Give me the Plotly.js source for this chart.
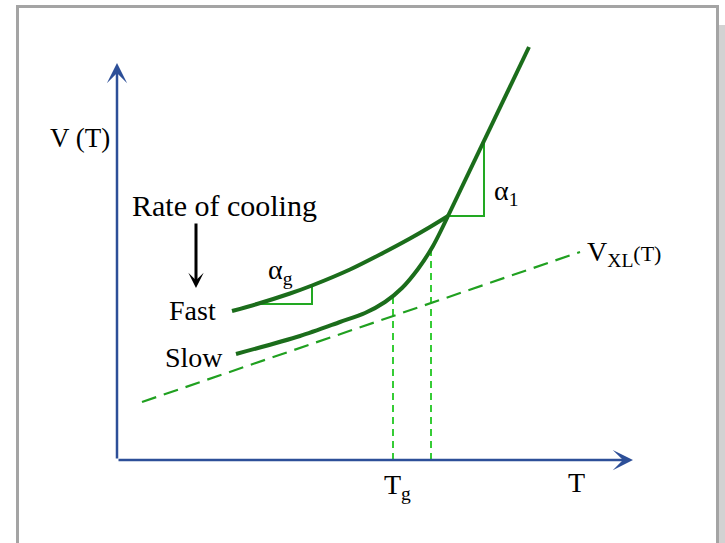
<!DOCTYPE html>
<html>
<head>
<meta charset="utf-8">
<script src="https://cdn.plot.ly/plotly-3.0.1.min.js"></script>
<style>html,body{margin:0;padding:0;background:#fff}#chart{width:725px;height:543px}</style>
</head>
<body>
<div id="chart"></div>
<script>
// Diagram coordinates: T to the right, V upward, origin at axes corner
var liquidT = [331, 412];
var liquidV = [244, 413];
var fastT = [115, 140, 173, 195, 233, 263, 293, 313, 331];
var fastV = [149, 156, 166.5, 174.5, 190.5, 205.5, 221.5, 233, 244];
var slowT = [119, 183, 223, 248, 268, 285, 301, 316, 331];
var slowV = [106, 124, 138, 147, 158, 172, 191, 214, 244];
var xlT = [25, 463];
var xlV = [58, 208];
var tg1T = [276, 276];
var tg1V = [0, 165];
var tg2T = [314, 314];
var tg2V = [0, 211];
var alpha1T = [331, 367, 367];
var alpha1V = [244, 244, 317];
var alphagT = [140, 195, 195];
var alphagV = [156, 156, 174];
var axisTmax = 516;
var axisVmax = 397;

var curveColor = '#1b6d1b';
var triColor = '#22a822';
var serif = 'Liberation Serif, Times New Roman, serif';

var traces = [
  {x: tg1T, y: tg1V, mode: 'lines', line: {color: '#36cc36', width: 2, dash: '7px,5px'}},
  {x: tg2T, y: tg2V, mode: 'lines', line: {color: '#36cc36', width: 2, dash: '7px,5px'}},
  {x: xlT, y: xlV, mode: 'lines', line: {color: '#20a020', width: 2.2, dash: '15px,8px'}},
  {x: alpha1T, y: alpha1V, mode: 'lines', line: {color: triColor, width: 2}},
  {x: alphagT, y: alphagV, mode: 'lines', line: {color: triColor, width: 2}},
  {x: fastT, y: fastV, mode: 'lines', line: {color: curveColor, width: 4, shape: 'spline', smoothing: 0.8}},
  {x: slowT, y: slowV, mode: 'lines', line: {color: curveColor, width: 4, shape: 'spline', smoothing: 0.8}},
  {x: liquidT, y: liquidV, mode: 'lines', line: {color: curveColor, width: 4}}
];

function lbl(x, y, text, size, xanchor) {
  return {x: x, y: y, xref: 'x', yref: 'y', text: text, showarrow: false,
    xanchor: xanchor || 'center', yanchor: 'middle',
    font: {family: serif, size: size, color: '#000'}};
}

var axisBlue = '#2d4f98';
var annotations = [
  {x: 0, y: axisVmax, ax: 0, ay: 0, xref: 'x', yref: 'y', axref: 'x', ayref: 'y', text: '',
    showarrow: true, arrowhead: 3, arrowsize: 1.35, arrowwidth: 2.5, arrowcolor: axisBlue},
  {x: axisTmax, y: 0, ax: 0, ay: 0, xref: 'x', yref: 'y', axref: 'x', ayref: 'y', text: '',
    showarrow: true, arrowhead: 3, arrowsize: 1.35, arrowwidth: 2.5, arrowcolor: axisBlue},
  {x: 79, y: 172, ax: 79, ay: 238, xref: 'x', yref: 'y', axref: 'x', ayref: 'y', text: '',
    showarrow: true, arrowhead: 3, arrowsize: 0.85, arrowwidth: 3, arrowcolor: '#000'},
  lbl(-37, 322, 'V (T)', 27),
  lbl(107, 255, 'Rate of cooling', 30),
  lbl(75, 150, 'Fast', 28),
  lbl(77, 103, 'Slow', 28),
  lbl(163, 189, 'α<sub>g</sub>', 28),
  lbl(389, 268, 'α<sub>1</sub>', 28),
  lbl(468, 207, 'V<sub>XL</sub><span style="font-size:22px">(T)</span>', 28, 'left'),
  lbl(280, -26, 'T<sub>g</sub>', 28),
  lbl(459, -22, 'T', 28)
];

var layout = {
  width: 725, height: 543,
  margin: {l: 0, r: 0, t: 0, b: 0},
  paper_bgcolor: '#fff', plot_bgcolor: '#fff',
  showlegend: false,
  xaxis: {range: [-117, 608], visible: false, fixedrange: true},
  yaxis: {range: [-83, 460], visible: false, fixedrange: true},
  annotations: annotations,
  shapes: [
    {type: 'rect', xref: 'paper', yref: 'paper', x0: 719/725, x1: 1.05, y0: -0.05, y1: 1 - 25/543,
      fillcolor: '#d2d2d2', line: {width: 0}, layer: 'below'},
    {type: 'rect', xref: 'paper', yref: 'paper', x0: 17.5/725, x1: 717.5/725, y0: -0.05, y1: 1 - 6.5/543,
      fillcolor: 'rgba(0,0,0,0)', line: {color: '#a4a4a4', width: 3}, layer: 'below'}
  ]
};

Plotly.newPlot('chart', traces, layout, {displayModeBar: false, staticPlot: true});
</script>
</body>
</html>
